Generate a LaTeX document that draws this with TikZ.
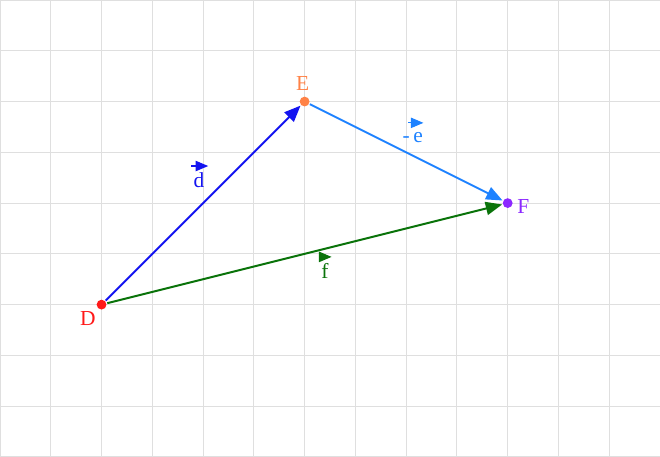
\documentclass[tikz,border=0pt]{standalone}
\usepackage{fontspec}
\setmainfont{Liberation Serif}
\usepackage{tikz}
\usetikzlibrary{arrows}
\definecolor{dcol}{RGB}{20,20,240}
\definecolor{ecol}{RGB}{30,130,255}
\definecolor{fcol}{RGB}{10,115,10}
\definecolor{Dcol}{RGB}{255,25,25}
\definecolor{Ecol}{RGB}{255,130,70}
\definecolor{Fcol}{RGB}{140,40,255}
\tikzset{font={\fontsize{12pt}{14}\selectfont}}
\begin{document}
\begin{tikzpicture}[>=triangle 45,line width=1.1pt,
                    pt node/.style={circle,fill,inner sep=0pt,minimum size=5.5pt},
                    lbl/.style={inner sep=1pt},
                    small vec/.style={->,line width=0.6pt}]
  \useasboundingbox (0,0) rectangle (13,9);
  \draw[gray!25,line width=0.5pt] (0,0) grid (13,9);

  \node[pt node,Dcol] (D) at (2,3) {};
  \node[pt node,Ecol] (E) at (6,7) {};
  \node[pt node,Fcol] (F) at (10,5) {};

  \node[lbl,Dcol] (lD) at (1.73,2.72) {D};
  \node[lbl,Ecol] (lE) at (5.96,7.36) {E};
  \node[lbl,Fcol] (lF) at (10.31,4.93) {F};

  \node[lbl,dcol] (ld) at (3.92,5.45) {d};
  \node[lbl,ecol] (le) at (8.13,6.30) {-\,e};
  \node[lbl,fcol] (lf) at (6.40,3.67) {f};

  \path[->]
    (D) edge [dcol] (E)
    (E) edge [ecol] (F)
    (D) edge [fcol] (F);

  \draw[small vec,dcol] (3.77,5.73) -- (4.10,5.73);
  \draw[small vec,ecol] (8.04,6.58) -- (8.34,6.58);
  \draw[small vec,fcol] (6.30,3.94) -- (6.53,3.94);
\end{tikzpicture}
\end{document}
